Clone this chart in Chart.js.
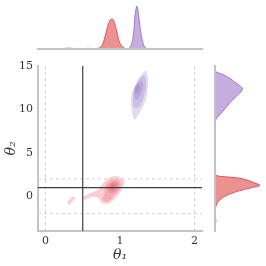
<!DOCTYPE html>
<html><head><meta charset="utf-8">
<script src="https://cdn.jsdelivr.net/npm/chart.js@4.4.1/dist/chart.umd.min.js"></script>
<style>
html,body{margin:0;padding:0;background:#fff;}
#wrap{position:relative;width:266px;height:266px;}
canvas{position:absolute;left:0;top:0;}
</style></head><body>
<div id="wrap">
<canvas id="main" width="266" height="266"></canvas>
<canvas id="top" width="266" height="266"></canvas>
<canvas id="right" width="266" height="266"></canvas>
</div>
<script>
// ---- data ----
const xTicks = [0, 1, 2];
const yTicks = [0, 5, 10, 15];
const trueTheta = [0.5, 1];          // theta1, theta2 reference
const boundsTheta1 = [0, 2];        // dashed vertical
const boundsTheta2 = [-2, 2];       // dashed horizontal

const redContour1 = [[0.976,2.27],[1.03,2.05],[1.06,1.7],[1.05,1.2],[1.025,0.74],[0.98,0.2],[0.935,-0.25],[0.88,-0.68],[0.821,-0.88],[0.76,-0.78],[0.731,-0.5],[0.70,-0.15],[0.62,-0.08],[0.56,-0.32],[0.52,-0.38],[0.50,-0.15],[0.55,0.15],[0.60,0.38],[0.66,0.58],[0.709,0.78],[0.745,1.2],[0.775,1.55],[0.82,1.9],[0.865,2.15],[0.92,2.33]];
const redContour2 = [[0.96,1.98],[1.005,1.6],[1.005,1.0],[0.965,0.45],[0.915,0.0],[0.865,-0.48],[0.80,-0.6],[0.765,-0.3],[0.79,0.2],[0.795,0.8],[0.815,1.4],[0.88,1.88]];
const redContour3 = [[0.94,1.75],[0.975,1.4],[0.97,0.9],[0.93,0.45],[0.88,0.35],[0.84,0.6],[0.835,1.1],[0.87,1.55]];
const redContour4 = [[0.925,1.5],[0.945,1.2],[0.925,0.85],[0.89,0.7],[0.865,0.9],[0.87,1.3],[0.9,1.5]];
const redContour5 = [[0.915,1.3],[0.925,1.1],[0.905,0.95],[0.885,1.0],[0.885,1.2]];
const redIsland = [[0.37,0],[0.395,-0.1],[0.39,-0.35],[0.35,-0.75],[0.32,-0.98],[0.30,-0.95],[0.30,-0.65],[0.33,-0.3]];

const purpleContour1 = [[1.356,14.42],[1.377,13.46],[1.372,12.6],[1.36,11.7],[1.342,10.96],[1.30,10.2],[1.266,9.62],[1.225,9.1],[1.199,8.85],[1.17,9.3],[1.155,10.0],[1.146,11.15],[1.155,11.8],[1.176,12.31],[1.21,12.9],[1.243,13.46],[1.28,13.9],[1.31,14.23],[1.335,14.45]];
const purpleContour2 = [[1.33,13.9],[1.35,13.2],[1.34,12.2],[1.31,11.2],[1.26,10.4],[1.2,10.2],[1.175,10.8],[1.18,11.8],[1.21,12.7],[1.26,13.5],[1.3,13.9]];
const purpleContour3 = [[1.29,13.4],[1.31,12.8],[1.29,12.0],[1.25,11.3],[1.205,11.2],[1.19,11.8],[1.20,12.5],[1.24,13.1]];
const purpleContour4 = [[1.255,12.9],[1.265,12.4],[1.24,11.9],[1.21,11.9],[1.20,12.4],[1.225,12.8]];

// marginal densities (theta, density)
const redTheta1 = [[0.2,0],[0.25,0.01],[0.3,0.02],[0.35,0.015],[0.42,0.005],[0.5,0.005],[0.57,0.015],[0.62,0.01],[0.68,0.01],[0.73,0.03],[0.77,0.12],[0.8,0.3],[0.84,0.56],[0.87,0.68],[0.89,0.70],[0.91,0.68],[0.94,0.52],[0.97,0.32],[0.99,0.17],[1.02,0.08],[1.05,0.03],[1.09,0.005],[1.15,0]];
const purpleTheta1 = [[1.10,0],[1.13,0.03],[1.15,0.09],[1.17,0.21],[1.19,0.5],[1.2,0.75],[1.215,0.93],[1.226,1.0],[1.24,0.92],[1.257,0.68],[1.27,0.48],[1.289,0.29],[1.31,0.13],[1.333,0.04],[1.36,0.01],[1.38,0]];
const redTheta2 = [[2.45,0],[2.3,0.1],[2.15,0.45],[1.95,0.66],[1.6,0.85],[1.4,0.95],[1.27,1.0],[1.1,0.92],[0.97,0.80],[0.58,0.51],[0.0,0.22],[-0.58,0.075],[-1.15,0.02],[-1.6,0.01],[-2.2,0.005],[-2.9,0.02],[-3.3,0.005],[-4,0]];
const purpleTheta2 = [[14.7,0],[14.4,0.01],[14.2,0.08],[14.0,0.18],[13.65,0.31],[13.08,0.46],[12.7,0.56],[12.39,0.61],[12.0,0.57],[11.53,0.48],[10.77,0.33],[10.0,0.21],[9.23,0.08],[8.85,0.02],[8.5,0]];

// ---- styles ----
const SERIF = "'DejaVu Serif', serif";
const spineColor = '#c4c4c4';
const redFill = 'rgba(228,72,84,0.26)';
const purpleFill = 'rgba(128,96,190,0.23)';
const toXY = arr => arr.map(p => ({x: p[0], y: p[1]}));
const toYX = arr => arr.map(p => ({x: p[1], y: p[0]}));

function contour(arr, color, order) {
  return {data: toXY(arr), backgroundColor: color, borderColor: 'transparent', borderWidth: 0,
    fill: 'shape', tension: 0.45, pointRadius: 0, order: order};
}
function refLine(pts, color, dash, width, order) {
  return {data: pts, borderColor: color, borderWidth: width, borderDash: dash, fill: false,
    pointRadius: 0, tension: 0, order: order};
}

const mainDatasets = [
  refLine([{x: trueTheta[0], y: -4}, {x: trueTheta[0], y: 15}], '#3c3c3c', [], 1.2, 0),
  refLine([{x: -0.1, y: trueTheta[1]}, {x: 2.1, y: trueTheta[1]}], '#3c3c3c', [], 1.2, 0),
];
boundsTheta1.forEach(v => mainDatasets.push(refLine([{x: v, y: -4}, {x: v, y: 15}], '#d2d2d2', [3, 3], 1, 1)));
boundsTheta2.forEach(v => mainDatasets.push(refLine([{x: -0.1, y: v}, {x: 2.1, y: v}], '#d2d2d2', [3, 3], 1, 1)));
[redContour1, redContour2, redContour3, redContour4, redContour5].forEach((c, i) => mainDatasets.push(contour(c, redFill, 10 - i)));
mainDatasets.push(contour(redIsland, redFill, 10));
[purpleContour1, purpleContour2, purpleContour3, purpleContour4].forEach((c, i) => mainDatasets.push(contour(c, purpleFill, 10 - i)));

const common = {responsive: false, animation: false, events: [],
  plugins: {legend: {display: false}, tooltip: {enabled: false}}};

new Chart(document.getElementById('main'), {
  type: 'line',
  data: {datasets: mainDatasets},
  options: Object.assign({}, common, {
    layout: {padding: {left: 0, top: 66, right: 64, bottom: 0}},
    scales: {
      x: {type: 'linear', min: -0.1, max: 2.1,
        afterBuildTicks: s => { s.ticks = xTicks.map(v => ({value: v})); },
        grid: {display: false, drawTicks: false},
        border: {display: true, color: spineColor, width: 2},
        ticks: {font: {family: SERIF, size: 11}, color: '#333', padding: 4},
        title: {display: true, text: 'θ₁', color: '#333', font: {family: SERIF, style: 'italic', size: 14}, padding: {top: 0, bottom: 2}},
        afterFit: s => { s.height = 35; }},
      y: {type: 'linear', min: -4, max: 15,
        afterBuildTicks: s => { s.ticks = yTicks.map(v => ({value: v})); },
        grid: {display: false, drawTicks: false},
        border: {display: true, color: spineColor, width: 2},
        ticks: {font: {family: SERIF, size: 11}, color: '#333', padding: 5},
        title: {display: true, text: 'θ₂', color: '#333', font: {family: SERIF, style: 'italic', size: 14}, padding: {top: 3, bottom: 0}},
        afterFit: s => { s.width = 38; }}
    }
  })
});

new Chart(document.getElementById('top'), {
  type: 'line',
  data: {datasets: [
    {data: toXY(redTheta1), backgroundColor: 'rgba(222,72,72,0.6)', borderColor: 'rgba(214,80,80,0.9)', borderWidth: 1, fill: 'origin', tension: 0.35, pointRadius: 0},
    {data: toXY(purpleTheta1), backgroundColor: 'rgba(160,118,202,0.6)', borderColor: 'rgba(150,112,196,0.9)', borderWidth: 1, fill: 'origin', tension: 0.35, pointRadius: 0}
  ]},
  options: Object.assign({}, common, {
    layout: {padding: {left: 38, top: 6, right: 64, bottom: 217}},
    scales: {
      x: {type: 'linear', min: -0.1, max: 2.1, display: true,
        grid: {display: false, drawTicks: false}, ticks: {display: false},
        border: {display: true, color: spineColor, width: 2, z: 1},
        afterFit: s => { s.height = 0; }},
      y: {type: 'linear', min: 0, max: 1.0, display: false}
    }
  })
});

new Chart(document.getElementById('right'), {
  type: 'line',
  data: {datasets: [
    {data: toYX(redTheta2), backgroundColor: 'rgba(222,72,72,0.6)', borderColor: 'rgba(214,80,80,0.9)', borderWidth: 1, fill: 'shape', tension: 0.35, pointRadius: 0},
    {data: toYX(purpleTheta2), backgroundColor: 'rgba(160,118,202,0.6)', borderColor: 'rgba(150,112,196,0.9)', borderWidth: 1, fill: 'shape', tension: 0.35, pointRadius: 0}
  ]},
  options: Object.assign({}, common, {
    layout: {padding: {left: 215, top: 66, right: 6, bottom: 35}},
    scales: {
      x: {type: 'linear', min: 0, max: 1.0, display: false},
      y: {type: 'linear', min: -4, max: 15, display: true, position: 'left',
        grid: {display: false, drawTicks: false}, ticks: {display: false},
        border: {display: true, color: spineColor, width: 2, z: 1},
        afterFit: s => { s.width = 0; }}
    }
  })
});
</script>
</body></html>
